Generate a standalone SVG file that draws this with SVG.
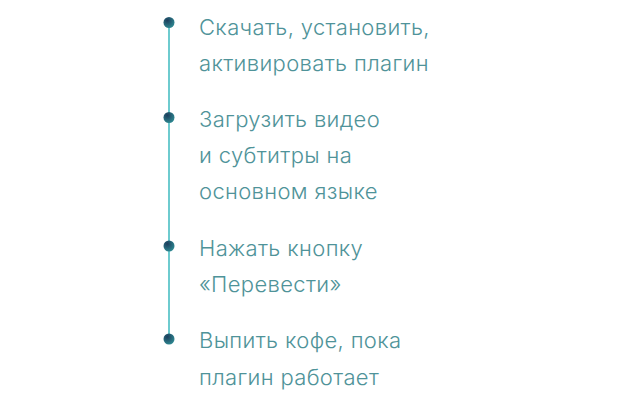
<svg xmlns="http://www.w3.org/2000/svg" width="640" height="400" viewBox="0 0 640 400">
<defs>
<radialGradient id="dotg" cx="0.35" cy="0.3" r="0.8">
<stop offset="0" stop-color="#1d3d5c"/>
<stop offset="1" stop-color="#2f8f96"/>
</radialGradient>
<style>
.t{font-family:Inter,"Noto Sans","DejaVu Sans",sans-serif;font-size:22px;font-weight:300;letter-spacing:0.35px;fill:#4f9399;}
.d{fill:url(#dotg);}
</style>
</defs>
<rect width="640" height="400" fill="#ffffff"/>
<g id="connectors">
<line x1="169" y1="22" x2="169" y2="339" stroke="#6ecbcf" stroke-width="2"/>
</g>
<g id="step1">
<circle class="d" cx="169" cy="22.5" r="5.5"/>
<text class="t" x="199" y="35">Скачать, установить,</text>
<text class="t" x="199" y="71">активировать плагин</text>
</g>
<g id="step2">
<circle class="d" cx="169" cy="117.5" r="5.5"/>
<text class="t" x="199" y="127">Загрузить видео</text>
<text class="t" x="199" y="163">и субтитры на</text>
<text class="t" x="199" y="199">основном языке</text>
</g>
<g id="step3">
<circle class="d" cx="169" cy="246" r="5.5"/>
<text class="t" x="199" y="256">Нажать кнопку</text>
<text class="t" x="199" y="292">«Перевести»</text>
</g>
<g id="step4">
<circle class="d" cx="169" cy="339" r="5.5"/>
<text class="t" x="199" y="348">Выпить кофе, пока</text>
<text class="t" x="199" y="385">плагин работает</text>
</g>
</svg>
